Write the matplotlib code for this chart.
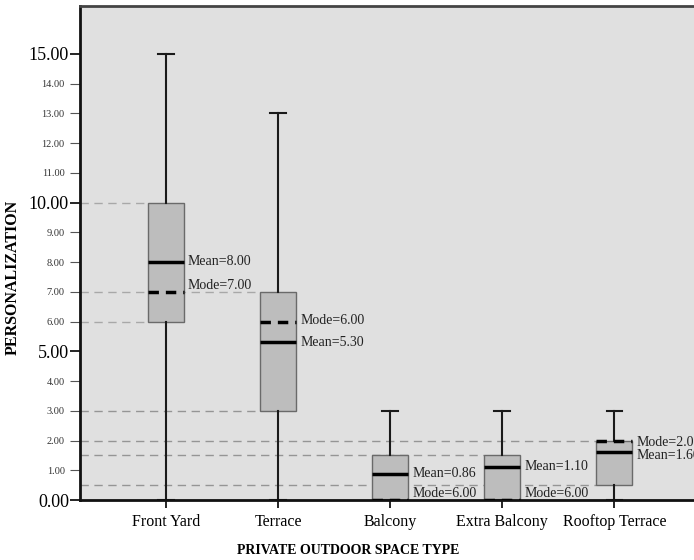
import matplotlib
matplotlib.use("Agg")
import matplotlib.pyplot as plt
import matplotlib.ticker as tick

plt.rcParams['font.family'] = ['Liberation Serif', 'DejaVu Serif']

# data
categories = ['Front Yard', 'Terrace', 'Balcony', 'Extra Balcony', 'Rooftop Terrace']
q1 = [6.0, 3.0, 0.0, 0.0, 0.5]
q3 = [10.0, 7.0, 1.5, 1.5, 2.0]
whis_lo = [0.0, 0.0, 0.0, 0.0, 0.0]
whis_hi = [15.0, 13.0, 3.0, 3.0, 3.0]
means = [8.00, 5.30, 0.86, 1.10, 1.60]
modes = [7.0, 6.0, 0.0, 0.0, 2.0]
mode_text = ['7.00', '6.00', '6.00', '6.00', '2.00']

# guide lines: level and the box they run to
ref_levels = [10, 6, 7, 3, 2, 1.5, 0.5]
ref_box = [0, 0, 1, 1, 4, 3, 4]

# where the annotations sit (y, data units)
mean_lbl_y = [8.03, 5.30, 0.88, 1.12, 1.50]
mode_lbl_y = [7.22, 6.02, 0.22, 0.22, 1.92]

positions = list(range(1, len(categories) + 1))
width = 0.32

fig = plt.figure(figsize=(6.94, 5.6), dpi=100)
ax = fig.add_axes([0.1153, 0.107, 0.8847, 0.882])
ax.set_facecolor('#e0e0e0')
ax.set_xlim(0.232, 5.71)
ax.set_ylim(0, 16.6)

stats = []
for i in range(len(categories)):
    stats.append(dict(q1=q1[i], q3=q3[i], med=means[i], whislo=whis_lo[i],
                      whishi=whis_hi[i], fliers=[], label=categories[i]))

# dashed guide lines behind the boxes
for lvl, b in zip(ref_levels, ref_box):
    ax.hlines(lvl, ax.get_xlim()[0], positions[b] - width / 2,
              colors='#a8a8a8' if lvl > 5 else '#959595',
              linestyles=(0, (6, 4)), linewidth=1.0, zorder=1)

ax.bxp(stats, positions=positions, widths=width, patch_artist=True,
       showfliers=False, capwidths=0.14,
       boxprops=dict(facecolor='#bdbdbd', edgecolor='#6a6a6a', linewidth=1.0),
       whiskerprops=dict(color='#1a1a1a', linewidth=1.5),
       capprops=dict(color='#1a1a1a', linewidth=1.5),
       medianprops=dict(color='black', linewidth=2.5), zorder=2)

for i, p in enumerate(positions):
    ax.hlines(modes[i], p - width / 2, p + width / 2, colors='black',
              linestyles=(0, (3, 2)), linewidth=2.5, zorder=3)
    ax.text(p + width / 2 + 0.035, mean_lbl_y[i], 'Mean=%.2f' % means[i],
            fontsize=10, va='center', ha='left', color='#222222')
    ax.text(p + width / 2 + 0.035, mode_lbl_y[i], 'Mode=' + mode_text[i],
            fontsize=10, va='center', ha='left', color='#222222')

# y axis: big labels on every 5, small on the rest
ax.yaxis.set_major_locator(tick.MultipleLocator(5))
ax.yaxis.set_minor_locator(tick.FixedLocator([1, 2, 3, 4, 6, 7, 8, 9, 11, 12, 13, 14]))
ax.yaxis.set_major_formatter(tick.FormatStrFormatter('%.2f'))
ax.yaxis.set_minor_formatter(tick.FormatStrFormatter('%.2f'))
ax.tick_params(axis='y', which='major', labelsize=13, length=7, width=1.2, pad=1)
ax.tick_params(axis='y', which='minor', labelsize=7.5, length=7, width=0.8,
               color='#555555', labelcolor='#333333', pad=4)

ax.set_xticks(positions)
ax.set_xticklabels(categories)
ax.tick_params(axis='x', labelsize=11.5, length=6, width=1.2, pad=4)

for s in ['left', 'bottom']:
    ax.spines[s].set_linewidth(2.0)
    ax.spines[s].set_color('#111111')
ax.spines['top'].set_linewidth(2.0)
ax.spines['top'].set_color('#444444')
ax.spines['right'].set_visible(False)

ax.set_ylabel('PERSONALIZATION', fontsize=11.5, fontweight='bold')
ax.yaxis.set_label_coords(-0.097, 0.45)
ax.set_xlabel('PRIVATE OUTDOOR SPACE TYPE', fontsize=10, fontweight='bold')
ax.xaxis.set_label_coords(0.437, -0.088)

fig.savefig('out.png', dpi=100)
